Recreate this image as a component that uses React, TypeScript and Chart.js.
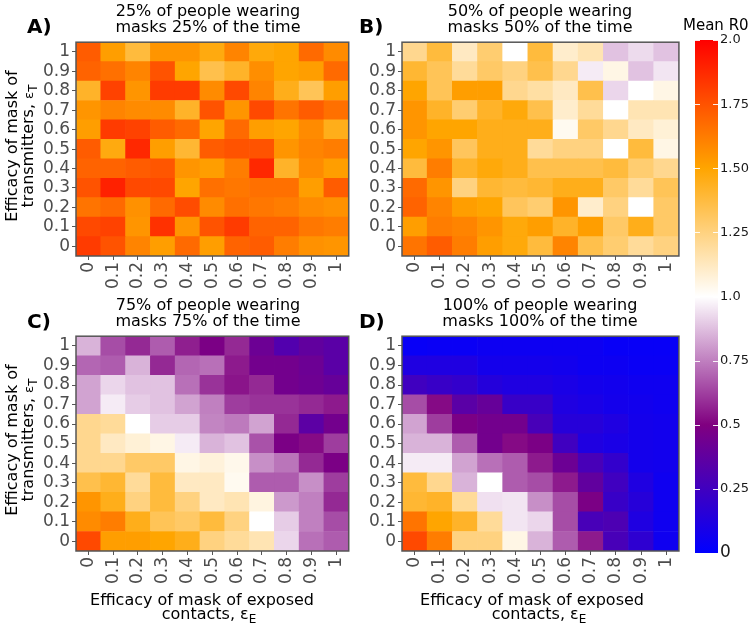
import React, { useEffect, useRef } from "react";
import { Chart, registerables } from "chart.js";
Chart.register(...registerables);

const FONT = "'DejaVu Sans', sans-serif";

const efficacyLabels = ["0", "0.1", "0.2", "0.3", "0.4", "0.5", "0.6", "0.7", "0.8", "0.9", "1"];

// Mean R0; rows from top (eps_T = 1) to bottom (eps_T = 0), columns eps_E = 0 .. 1
const meanR0_25 = [
  [1.72, 1.52, 1.38, 1.55, 1.55, 1.47, 1.6, 1.48, 1.5, 1.68, 1.58],
  [1.7, 1.66, 1.6, 1.75, 1.5, 1.35, 1.42, 1.57, 1.5, 1.52, 1.68],
  [1.42, 1.8, 1.55, 1.82, 1.82, 1.58, 1.78, 1.6, 1.45, 1.33, 1.52],
  [1.55, 1.6, 1.58, 1.58, 1.42, 1.75, 1.55, 1.78, 1.65, 1.72, 1.66],
  [1.52, 1.82, 1.8, 1.72, 1.68, 1.5, 1.68, 1.52, 1.5, 1.58, 1.45],
  [1.72, 1.47, 1.88, 1.52, 1.4, 1.72, 1.75, 1.75, 1.55, 1.6, 1.62],
  [1.7, 1.7, 1.72, 1.74, 1.55, 1.52, 1.62, 1.88, 1.42, 1.58, 1.52],
  [1.75, 1.9, 1.78, 1.78, 1.5, 1.66, 1.64, 1.66, 1.66, 1.52, 1.72],
  [1.65, 1.68, 1.56, 1.68, 1.77, 1.58, 1.66, 1.64, 1.62, 1.58, 1.56],
  [1.78, 1.8, 1.55, 1.85, 1.55, 1.75, 1.82, 1.7, 1.7, 1.64, 1.62],
  [1.82, 1.75, 1.6, 1.52, 1.68, 1.52, 1.7, 1.72, 1.62, 1.56, 1.55],
];

const meanR0_50 = [
  [1.22, 1.38, 1.12, 1.28, 1.0, 1.38, 1.1, 1.15, 0.88, 0.93, 0.88],
  [1.4, 1.33, 1.2, 1.3, 1.25, 1.35, 1.22, 0.96, 1.05, 0.88, 0.95],
  [1.5, 1.33, 1.52, 1.52, 1.22, 1.18, 1.12, 1.35, 0.92, 1.0, 1.05],
  [1.55, 1.42, 1.28, 1.42, 1.48, 1.35, 1.1, 1.2, 1.0, 1.15, 1.15],
  [1.55, 1.5, 1.5, 1.45, 1.45, 1.45, 1.03, 1.3, 1.22, 1.12, 1.08],
  [1.5, 1.55, 1.32, 1.45, 1.45, 1.2, 1.25, 1.25, 1.0, 1.38, 1.05],
  [1.38, 1.62, 1.42, 1.48, 1.45, 1.35, 1.35, 1.35, 1.38, 1.28, 1.22],
  [1.68, 1.55, 1.25, 1.4, 1.38, 1.4, 1.45, 1.45, 1.3, 1.2, 1.33],
  [1.7, 1.6, 1.52, 1.5, 1.32, 1.28, 1.55, 1.1, 1.25, 1.0, 1.3],
  [1.52, 1.62, 1.6, 1.55, 1.48, 1.52, 1.42, 1.52, 1.3, 1.45, 1.3],
  [1.65, 1.72, 1.62, 1.52, 1.48, 1.38, 1.6, 1.35, 1.28, 1.2, 1.25],
];

const meanR0_75 = [
  [0.85, 0.65, 0.58, 0.68, 0.56, 0.48, 0.58, 0.42, 0.32, 0.38, 0.35],
  [0.7, 0.68, 0.85, 0.58, 0.7, 0.72, 0.55, 0.45, 0.45, 0.42, 0.35],
  [0.82, 0.92, 0.88, 0.88, 0.72, 0.6, 0.54, 0.58, 0.45, 0.43, 0.4],
  [0.82, 0.96, 0.9, 0.88, 0.82, 0.75, 0.62, 0.6, 0.6, 0.58, 0.55],
  [1.22, 1.2, 1.0, 0.9, 0.9, 0.76, 0.74, 0.82, 0.58, 0.36, 0.45],
  [1.22, 1.12, 1.08, 1.05, 0.96, 0.85, 0.88, 0.66, 0.48, 0.52, 0.62],
  [1.22, 1.22, 1.3, 1.3, 1.05, 1.07, 1.04, 0.78, 0.73, 0.58, 0.48],
  [1.35, 1.4, 1.2, 1.38, 1.12, 1.12, 1.03, 0.68, 0.68, 0.78, 0.62],
  [1.55, 1.45, 1.25, 1.38, 1.25, 1.12, 1.15, 1.06, 0.8, 0.75, 0.58],
  [1.58, 1.62, 1.45, 1.33, 1.3, 1.38, 1.25, 1.0, 0.9, 0.75, 0.65],
  [1.78, 1.52, 1.52, 1.5, 1.45, 1.25, 1.2, 1.15, 0.92, 0.72, 0.68],
];

const meanR0_100 = [
  [0.03, 0.04, 0.04, 0.05, 0.05, 0.05, 0.05, 0.05, 0.03, 0.03, 0.03],
  [0.12, 0.12, 0.12, 0.08, 0.08, 0.08, 0.07, 0.05, 0.05, 0.04, 0.04],
  [0.25, 0.22, 0.2, 0.14, 0.12, 0.12, 0.1, 0.08, 0.07, 0.06, 0.06],
  [0.65, 0.52, 0.35, 0.4, 0.22, 0.22, 0.12, 0.1, 0.08, 0.07, 0.06],
  [0.82, 0.62, 0.48, 0.45, 0.45, 0.28, 0.15, 0.15, 0.12, 0.08, 0.07],
  [0.85, 0.85, 0.68, 0.45, 0.52, 0.48, 0.25, 0.12, 0.1, 0.08, 0.07],
  [0.96, 0.96, 0.82, 0.72, 0.68, 0.55, 0.42, 0.28, 0.2, 0.08, 0.07],
  [1.38, 1.22, 0.85, 1.0, 0.68, 0.65, 0.55, 0.38, 0.25, 0.12, 0.06],
  [1.4, 1.42, 1.2, 0.94, 0.95, 0.78, 0.65, 0.48, 0.22, 0.15, 0.06],
  [1.65, 1.5, 1.42, 1.2, 0.95, 0.92, 0.65, 0.28, 0.3, 0.12, 0.06],
  [1.78, 1.62, 1.25, 1.25, 1.05, 0.85, 0.68, 0.55, 0.28, 0.18, 0.06],
];

const colorbarTicks = [0, 0.25, 0.5, 0.75, 1, 1.25, 1.5, 1.75, 2];
const colorbarLabels = ["0", "0.25", "0.5", "0.75", "1.0", "1.25", "1.50", "1.75", "2.0"];
const colorStopValues = [0, 0.5, 1, 1.5, 2];
const colorStopRGB = [
  [0, 0, 255],
  [128, 0, 128],
  [255, 255, 255],
  [255, 165, 0],
  [255, 0, 0],
];

function r0Color(v: number): string {
  const x = Math.max(0, Math.min(2, v));
  let i = 0;
  while (i < colorStopValues.length - 2 && x > colorStopValues[i + 1]) i++;
  const t = (x - colorStopValues[i]) / (colorStopValues[i + 1] - colorStopValues[i]);
  const a = colorStopRGB[i];
  const b = colorStopRGB[i + 1];
  const c = a.map((ai, k) => Math.round(ai + (b[k] - ai) * t));
  return `rgb(${c[0]},${c[1]},${c[2]})`;
}

const frame = {
  id: "frame",
  afterDatasetsDraw(chart: any) {
    const { ctx, chartArea: a } = chart;
    ctx.save();
    ctx.strokeStyle = "#555555";
    ctx.lineWidth = 1.5;
    ctx.strokeRect(a.left, a.top, a.right - a.left, a.bottom - a.top);
    ctx.restore();
  },
};

const YW = 76;
const XH = 44;
const PT = 6;
const PR = 6;

function Heatmap({ values, left, top, w, h }: { values: number[][]; left: number; top: number; w: number; h: number }) {
  const ref = useRef<HTMLCanvasElement>(null);
  const cw = YW + w + PR;
  const ch = PT + h + XH;
  useEffect(() => {
    const rows = [...values].reverse();
    const datasets = rows.map((row, r) => ({
      label: efficacyLabels[r],
      data: row.map(() => 1),
      backgroundColor: row.map((v) => r0Color(v)),
      borderWidth: 0,
      barPercentage: 1,
      categoryPercentage: 1,
      stack: "s",
    }));
    const tickFont = { family: FONT, size: 17 };
    const chart = new Chart(ref.current as HTMLCanvasElement, {
      type: "bar",
      data: { labels: efficacyLabels, datasets },
      options: {
        responsive: false,
        animation: false,
        layout: { padding: { left: 0, right: PR, top: PT, bottom: 0 } },
        plugins: { legend: { display: false }, tooltip: { enabled: false } },
        scales: {
          x: {
            stacked: true,
            offset: true,
            grid: { display: true, drawOnChartArea: false, offset: false, tickLength: 4, color: "#555555" },
            border: { display: false },
            ticks: { minRotation: 90, maxRotation: 90, autoSkip: false, font: tickFont, color: "#4d4d4d", padding: 2 },
            afterFit: (s: any) => {
              s.height = XH;
            },
          },
          y: {
            stacked: true,
            min: 0,
            max: 11,
            afterBuildTicks: (s: any) => {
              s.ticks = efficacyLabels.map((_, i) => ({ value: i + 0.5 }));
            },
            grid: { display: true, drawOnChartArea: false, tickLength: 4, color: "#555555" },
            border: { display: false },
            ticks: {
              autoSkip: false,
              font: tickFont,
              color: "#4d4d4d",
              padding: 2,
              callback: (v: any) => efficacyLabels[Math.round(Number(v) - 0.5)],
            },
            afterFit: (s: any) => {
              s.width = YW;
            },
          },
        },
      } as any,
      plugins: [frame],
    });
    return () => chart.destroy();
  }, [values]);
  return (
    <canvas
      ref={ref}
      width={cw}
      height={ch}
      style={{ position: "absolute", left: left - YW, top: top - PT, width: cw, height: ch }}
    />
  );
}

const cbTickMarks = {
  id: "cbTickMarks",
  afterDatasetsDraw(chart: any) {
    const { ctx, chartArea: a } = chart;
    const y = chart.scales.y;
    ctx.save();
    ctx.strokeStyle = "rgba(255,255,255,0.9)";
    ctx.lineWidth = 1;
    colorbarTicks.forEach((t) => {
      if (t === 0) return;
      const py = Math.round(y.getPixelForValue(t)) + 0.5;
      ctx.beginPath();
      ctx.moveTo(a.left, py);
      ctx.lineTo(a.left + 5, py);
      ctx.moveTo(a.right - 5, py);
      ctx.lineTo(a.right, py);
      ctx.stroke();
    });
    ctx.restore();
  },
};

function Colorbar() {
  const ref = useRef<HTMLCanvasElement>(null);
  useEffect(() => {
    const chart = new Chart(ref.current as HTMLCanvasElement, {
      type: "bar",
      data: {
        labels: ["Mean R0"],
        datasets: [
          {
            data: [[0, 2]] as any,
            barPercentage: 1,
            categoryPercentage: 1,
            borderWidth: 0,
            inflateAmount: 0,
            backgroundColor: (c: any) => {
              const a = c.chart.chartArea;
              if (!a) return "#ffffff";
              const g = c.chart.ctx.createLinearGradient(0, a.bottom, 0, a.top);
              colorStopValues.forEach((v, i) => {
                const [r, gg, b] = colorStopRGB[i];
                g.addColorStop(v / 2, `rgb(${r},${gg},${b})`);
              });
              return g;
            },
          },
        ],
      },
      options: {
        responsive: false,
        animation: false,
        layout: { padding: { left: 5, right: 0, top: 10, bottom: 17 } },
        plugins: { legend: { display: false }, tooltip: { enabled: false } },
        scales: {
          x: { display: false, offset: true },
          y: {
            position: "right",
            min: 0,
            max: 2,
            afterBuildTicks: (s: any) => {
              s.ticks = colorbarTicks.map((v) => ({ value: v }));
            },
            grid: { display: false, drawTicks: false },
            border: { display: false },
            ticks: {
              autoSkip: false,
              font: (c: any) => ({ family: FONT, size: c.tick && c.tick.value === 0 ? 17 : 13 }),
              color: "#1a1a1a",
              padding: 2,
              callback: (v: any) => colorbarLabels[colorbarTicks.indexOf(Number(v))],
            },
            afterFit: (s: any) => {
              s.width = 31;
            },
          },
        },
      } as any,
      plugins: [cbTickMarks],
    });
    return () => chart.destroy();
  }, []);
  return <canvas ref={ref} width={59} height={540} style={{ position: "absolute", left: 690, top: 30, width: 59, height: 540 }} />;
}

const txt: React.CSSProperties = { position: "absolute", whiteSpace: "nowrap", fontFamily: FONT, color: "#000" };
const subStyle: React.CSSProperties = { fontSize: 12, verticalAlign: "-4px", lineHeight: 0 };

function PanelTitle({ cx, top, pct }: { cx: number; top: number; pct: string }) {
  return (
    <div style={{ ...txt, left: cx - 150, width: 300, top, textAlign: "center", fontSize: 16, lineHeight: "16px" }}>
      {pct} of people wearing
      <br />
      masks {pct} of the time
    </div>
  );
}

function Letter({ left, top, t }: { left: number; top: number; t: string }) {
  return <div style={{ ...txt, left, top, fontSize: 20, lineHeight: "20px", fontWeight: "bold" }}>{t}</div>;
}

function YTitle({ cy }: { cy: number }) {
  return (
    <div
      style={{
        ...txt,
        left: 19.5 - 125,
        top: cy - 16,
        width: 250,
        height: 32,
        textAlign: "center",
        fontSize: 16,
        lineHeight: "16px",
        transform: "rotate(-90deg)",
        transformOrigin: "50% 50%",
      }}
    >
      Efficacy of mask of
      <br />
      transmitters, <span style={{ fontSize: 13 }}>ε</span>
      <sub style={subStyle}>T</sub>
    </div>
  );
}

function XTitle({ cx }: { cx: number }) {
  return (
    <div style={{ ...txt, left: cx - 150, width: 300, top: 592.5, textAlign: "center", fontSize: 16, lineHeight: "14px" }}>
      Efficacy of mask of exposed
      <br />
      <span style={{ marginLeft: 14 }}>
        contacts, ε<sub style={subStyle}>E</sub>
      </span>
    </div>
  );
}

export default function App() {
  return (
    <div style={{ position: "absolute", left: 0, top: 0, width: 749, height: 623, background: "#fff", overflow: "hidden" }}>
      <Heatmap values={meanR0_25} left={76} top={36} w={277} h={220} />
      <Heatmap values={meanR0_50} left={402} top={36} w={281} h={220} />
      <Heatmap values={meanR0_75} left={76} top={330} w={277} h={221} />
      <Heatmap values={meanR0_100} left={402} top={330} w={281} h={221} />
      <Colorbar />
      <PanelTitle cx={208} top={3} pct="25%" />
      <PanelTitle cx={540} top={3} pct="50%" />
      <PanelTitle cx={208} top={297} pct="75%" />
      <PanelTitle cx={540} top={297} pct="100%" />
      <Letter left={27} top={16} t="A)" />
      <Letter left={359} top={16} t="B)" />
      <Letter left={27} top={311} t="C)" />
      <Letter left={359} top={311} t="D)" />
      <YTitle cy={146} />
      <YTitle cy={440} />
      <XTitle cx={202} />
      <XTitle cx={532} />
      <div style={{ ...txt, left: 683, top: 18, fontSize: 15, lineHeight: "15px" }}>Mean R0</div>
    </div>
  );
}
